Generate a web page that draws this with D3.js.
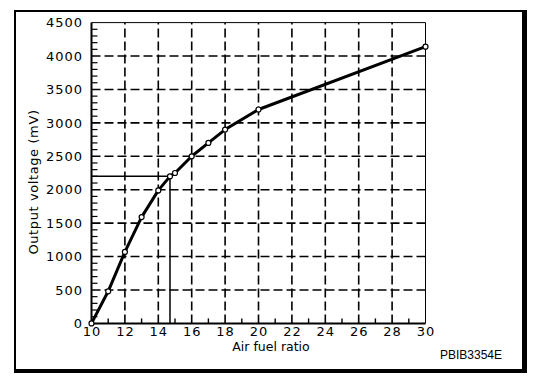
<!DOCTYPE html>
<html lang="en">
<head>
<meta charset="utf-8">
<title>Output voltage vs air fuel ratio</title>
<script src="https://d3js.org/d3.v7.min.js"></script>
<style>
  body { margin: 0; background: #fff; }
  text { font-family: 'DejaVu Sans', sans-serif; fill: #000; }
  .tick-label { font-size: 13px; letter-spacing: 1px; }
  .axis-title { font-size: 13px; }
  .code { font-family: 'Liberation Sans', Arial, sans-serif; font-size: 12px; }
</style>
</head>
<body>
<div id="chart"></div>
<script>

// curve points
var afr = [10, 11, 12, 13, 14, 14.7, 15, 16, 17, 18, 20, 30];
var mv  = [0, 480, 1070, 1590, 1990, 2200, 2250, 2500, 2700, 2900, 3200, 4140];

// marked reading (stoichiometric point)
var markAfr = 14.7;
var markMv = 2200;

// tick labels
var xTicks = [10, 12, 14, 16, 18, 20, 22, 24, 26, 28, 30];
var yTicks = [0, 500, 1000, 1500, 2000, 2500, 3000, 3500, 4000, 4500];
var xMinor = [11, 13, 15, 17, 19, 21, 23, 25, 27, 29];
var yMinor = d3.range(100, 4500, 100);

var W = 560, H = 384;
var plot = {left: 91.5, right: 425.5, top: 22.6, bottom: 323.4};

var svg = d3.select("#chart")
  .append("svg")
    .attr("width", W)
    .attr("height", H);

// frame with heavier right / bottom edge
svg.append("rect")
  .attr("x", 14).attr("y", 10)
  .attr("width", 513).attr("height", 363)
  .style("fill", "#000");
svg.append("rect")
  .attr("x", 16).attr("y", 12)
  .attr("width", 506).attr("height", 357)
  .style("fill", "#fff");

var x = d3.scaleLinear()
  .domain([10, 30])
  .range([plot.left, plot.right]);

var y = d3.scaleLinear()
  .domain([0, 4500])
  .range([plot.bottom, plot.top]);

var data = afr.map(function(d, i) { return {afr: d, mv: mv[i]}; });

// dashed grid
svg.append("g")
  .selectAll("line")
  .data(xTicks.filter(function(d) { return d > 10 && d < 30; }))
  .enter()
  .append("line")
    .attr("x1", function(d) { return x(d); })
    .attr("x2", function(d) { return x(d); })
    .attr("y1", y(0))
    .attr("y2", y(4500))
    .attr("stroke", "#000")
    .style("stroke-width", 1.6)
    .style("stroke-dasharray", "9,4");

svg.append("g")
  .selectAll("line")
  .data(yTicks.filter(function(d) { return d > 0 && d < 4500; }))
  .enter()
  .append("line")
    .attr("x1", x(10))
    .attr("x2", x(30))
    .attr("y1", function(d) { return y(d); })
    .attr("y2", function(d) { return y(d); })
    .attr("stroke", "#000")
    .style("stroke-width", 1.6)
    .style("stroke-dasharray", "9,4");

// top and right edges of the plot
svg.append("path")
  .attr("d", "M" + x(10) + "," + y(4500) + "H" + x(30) + "V" + y(0))
  .attr("stroke", "#000")
  .style("stroke-width", 1)
  .style("fill", "none");

// minor ticks
svg.append("g")
  .selectAll("line")
  .data(yMinor.filter(function(d) { return d % 500 != 0; }))
  .enter()
  .append("line")
    .attr("x1", x(10))
    .attr("x2", x(10) + 6)
    .attr("y1", function(d) { return y(d); })
    .attr("y2", function(d) { return y(d); })
    .attr("stroke", "#000")
    .style("stroke-width", 1.2);

svg.append("g")
  .selectAll("line")
  .data(xMinor)
  .enter()
  .append("line")
    .attr("x1", function(d) { return x(d); })
    .attr("x2", function(d) { return x(d); })
    .attr("y1", y(0))
    .attr("y2", y(0) - 5)
    .attr("stroke", "#000")
    .style("stroke-width", 1.4);

// left and bottom axes
svg.append("path")
  .attr("d", "M" + x(10) + "," + y(4500) + "V" + y(0) + "H" + x(30))
  .attr("stroke", "#000")
  .style("stroke-width", 2)
  .style("fill", "none");

// tick labels
svg.append("g")
  .selectAll("text")
  .data(yTicks)
  .enter()
  .append("text")
    .attr("class", "tick-label")
    .attr("x", 83)
    .attr("y", function(d) { return y(d); })
    .attr("dy", "0.36em")
    .attr("text-anchor", "end")
    .text(function(d) { return d; });

svg.append("g")
  .selectAll("text")
  .data(xTicks)
  .enter()
  .append("text")
    .attr("class", "tick-label")
    .attr("x", function(d) { return x(d) + 0.5; })
    .attr("y", 336)
    .attr("text-anchor", "middle")
    .text(function(d) { return d; });

// marked reading lines
svg.append("path")
  .attr("d", "M" + x(10) + "," + y(markMv) + "H" + x(markAfr) + "V" + y(0))
  .attr("stroke", "#000")
  .style("stroke-width", 1.5)
  .style("fill", "none");

// the curve
svg.append("path")
  .datum(data)
  .attr("d", d3.line()
    .x(function(d) { return x(d.afr); })
    .y(function(d) { return y(d.mv); })
  )
  .attr("stroke", "#000")
  .style("stroke-width", 3)
  .style("stroke-linejoin", "round")
  .style("fill", "none");

svg.append("g")
  .selectAll("circle")
  .data(data)
  .enter()
  .append("circle")
    .attr("cx", function(d) { return x(d.afr); })
    .attr("cy", function(d) { return y(d.mv); })
    .attr("r", 2.5)
    .attr("stroke", "#000")
    .style("stroke-width", 1.2)
    .style("fill", "#fff");

// axis titles
svg.append("text")
  .attr("class", "axis-title")
  .attr("x", 271)
  .attr("y", 351)
  .attr("text-anchor", "middle")
  .style("font-size", "12.5px")
  .text("Air fuel ratio");

svg.append("text")
  .attr("class", "axis-title")
  .attr("transform", "translate(38,182) rotate(-90)")
  .attr("text-anchor", "middle")
  .style("letter-spacing", "0.6px")
  .text("Output voltage (mV)");

svg.append("text")
  .attr("class", "code")
  .attr("x", 502)
  .attr("y", 359)
  .attr("text-anchor", "end")
  .text("PBIB3354E");

</script>
</body>
</html>
